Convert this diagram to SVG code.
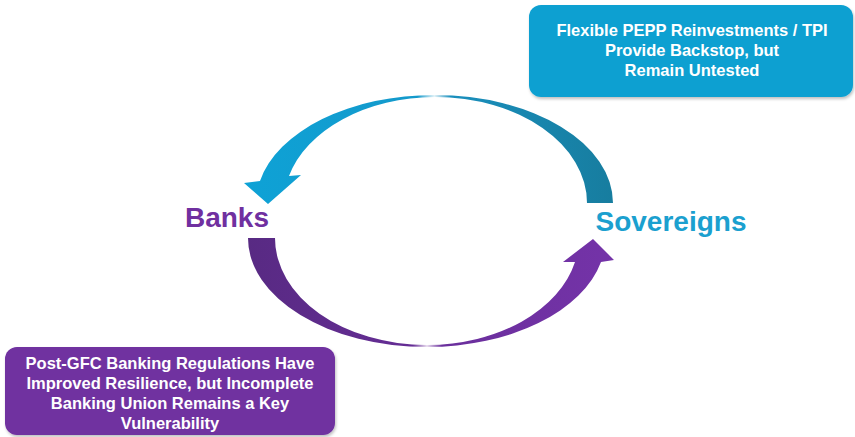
<svg xmlns="http://www.w3.org/2000/svg" width="855" height="437" viewBox="0 0 855 437">
<defs>
<linearGradient id="gBlue" gradientUnits="userSpaceOnUse" x1="244" y1="0" x2="613" y2="0">
<stop offset="0" stop-color="#0ea2d6"/>
<stop offset="0.47" stop-color="#1499cb"/>
<stop offset="0.516" stop-color="#e4f3f8"/>
<stop offset="0.56" stop-color="#1a8fbd"/>
<stop offset="1" stop-color="#177d9f"/>
</linearGradient>
<linearGradient id="gPurple" gradientUnits="userSpaceOnUse" x1="248" y1="0" x2="614" y2="0">
<stop offset="0" stop-color="#582a83"/>
<stop offset="0.45" stop-color="#652d95"/>
<stop offset="0.489" stop-color="#eadff0"/>
<stop offset="0.53" stop-color="#6a2f9c"/>
<stop offset="1" stop-color="#7433a8"/>
</linearGradient>
<filter id="sh" x="-5%" y="-10%" width="115%" height="130%">
<feDropShadow dx="1" dy="2" stdDeviation="1.5" flood-color="#000" flood-opacity="0.25"/>
</filter>
</defs>
<style>
.box-text{font-family:"Liberation Sans",Arial,sans-serif;font-weight:bold;font-size:16.5px;fill:#ffffff;text-anchor:middle}
.label{font-family:"Liberation Sans",Arial,sans-serif;font-weight:bold;font-size:28px;text-anchor:middle}
</style>
<rect width="855" height="437" fill="#ffffff"/>
<g id="connectors">
<path id="arrow-top" fill="url(#gBlue)" d="M 587 203 A 152 106 0 0 0 435 97 A 152 106 0 0 0 289 176 L 301 175 L 268 204 L 244 183 L 260 181 A 178 108 0 0 1 435 95 A 178 108 0 0 1 613 203 Z"/>
<path id="arrow-bottom" fill="url(#gPurple)" d="M 248 238 A 179 109 0 0 0 427 347 A 179 109 0 0 0 601 262 L 614 260 L 593 239 L 563 262 L 575 262 A 152 107 0 0 1 427 345 A 152 107 0 0 1 275 238 Z"/>
</g>
<g id="node-banks">
<text class="label" x="227" y="227" fill="#7030a0">Banks</text>
</g>
<g id="node-sovereigns">
<text class="label" x="671" y="231" fill="#1ba0cf">Sovereigns</text>
</g>
<g id="note-pepp">
<rect x="529" y="5" width="324" height="92" rx="12" fill="#0aa0d1" filter="url(#sh)"/>
<text class="box-text" x="692" y="36">Flexible PEPP Reinvestments / TPI</text>
<text class="box-text" x="692" y="56">Provide Backstop, but</text>
<text class="box-text" x="692" y="76">Remain Untested</text>
</g>
<g id="note-banking">
<rect x="5" y="347" width="330" height="88" rx="12" fill="#7030a0" filter="url(#sh)"/>
<text class="box-text" x="170" y="369">Post-GFC Banking Regulations Have</text>
<text class="box-text" x="170" y="389">Improved Resilience, but Incomplete</text>
<text class="box-text" x="170" y="409">Banking Union Remains a Key</text>
<text class="box-text" x="170" y="429">Vulnerability</text>
</g>
</svg>
